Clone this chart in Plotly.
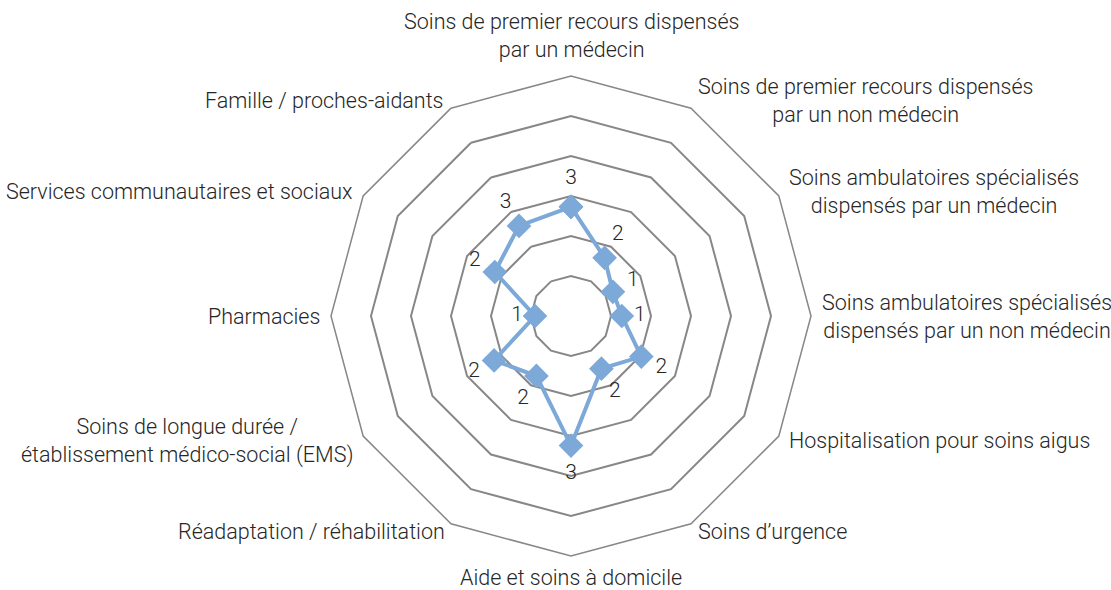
import math
import plotly.graph_objects as go

# catégories (sens horaire, en partant du haut)
categories = [
    "Soins de premier recours dispensés<br>par un médecin",
    "Soins de premier recours dispensés<br>par un non médecin",
    "Soins ambulatoires spécialisés<br>dispensés par un médecin",
    "Soins ambulatoires spécialisés<br>dispensés par un non médecin",
    "Hospitalisation pour soins aigus",
    "Soins d’urgence",
    "Aide et soins à domicile",
    "Réadaptation / réhabilitation",
    "Soins de longue durée /<br>établissement médico-social (EMS)",
    "Pharmacies",
    "Services communautaires et sociaux",
    "Famille / proches-aidants",
]

# valeurs moyennes (affichées arrondies)
values = [2.73, 1.68, 1.21, 1.27, 2.03, 1.52, 3.24, 1.73, 2.22, 0.90, 2.20, 2.60]

W, H = 1111, 590
# géométrie du radar (pixels de la figure)
CX, CY, R = 571, 316, 240

blue = "#7DA9D8"
grey = "#878787"
txt = "#262626"
font = dict(family="Roboto", size=21.5, color=txt, weight=300)

n = len(categories)
angles = [2 * math.pi * i / n for i in range(n)]

fig = go.Figure()

# série
fig.add_trace(go.Scatterpolar(
    r=values + values[:1],
    theta=categories + categories[:1],
    mode="lines+markers",
    line=dict(color=blue, width=4),
    marker=dict(symbol="diamond", size=19, color=blue),
    hoverinfo="skip",
    showlegend=False,
))

# étiquettes de données, décalées vers l'extérieur
# (un peu moins sur les côtés : les chiffres sont plus étroits que hauts)
fig.add_trace(go.Scatterpolar(
    r=[v + 0.45 + 0.25 * abs(math.cos(a)) for v, a in zip(values, angles)],
    theta=categories,
    mode="text",
    text=[str(int(round(v))) for v in values],
    textfont=dict(family="Roboto", size=21, color=txt, weight=300),
    hoverinfo="skip",
    showlegend=False,
))

# libellés des catégories autour du radar (centrés comme dans Excel)
for lab, a in zip(categories, angles):
    s, c = math.sin(a), math.cos(a)
    if abs(s) < 0.1:
        xa = "center"
        if c > 0:
            rr, ya = R + 12, "bottom"
        else:
            rr, ya = R + 7, "top"
    else:
        rr = R + 9
        xa = "left" if s > 0 else "right"
        ya = "middle"
    fig.add_annotation(
        x=(CX + rr * s) / W, y=(H - CY + rr * c) / H,
        xref="paper", yref="paper", xanchor=xa, yanchor=ya,
        text=lab, showarrow=False, align="center", font=font,
    )

fig.update_layout(
    width=W,
    height=H,
    margin=dict(l=0, r=0, t=0, b=0),
    paper_bgcolor="white",
    plot_bgcolor="white",
    font=font,
    polar=dict(
        domain=dict(x=[(CX - R) / W, (CX + R) / W],
                    y=[(H - CY - R) / H, (H - CY + R) / H]),
        gridshape="linear",
        bgcolor="white",
        radialaxis=dict(
            range=[0, 6], dtick=1, showticklabels=False, ticks="",
            showline=False, gridcolor=grey, gridwidth=1.5,
        ),
        angularaxis=dict(
            rotation=90, direction="clockwise", showgrid=False,
            showline=True, linecolor=grey, linewidth=1.5, ticks="",
            showticklabels=False,
        ),
    ),
)

# pas de marge de page autour de la figure
fig.write_html(
    "out.html",
    config={"displayModeBar": False},
    post_script="document.body.style.margin='0';document.body.style.overflow='hidden';",
)
